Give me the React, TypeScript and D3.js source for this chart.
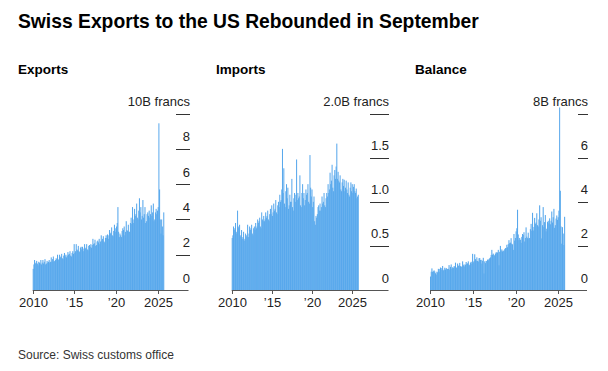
import { useEffect, useRef } from 'react'
import * as d3 from 'd3'

// monthly values, Jan 2010 .. Sep 2025, billions of francs
const exportsData = [
  1.2, 1.45, 1.7, 1.5, 1.55, 1.65, 1.5, 1.4, 1.6, 1.55, 1.5, 1.7,
  1.45, 1.55, 1.7, 1.5, 1.6, 1.75, 1.45, 1.5, 1.65, 1.55, 1.6, 1.7,
  1.55, 1.6, 1.85, 1.6, 1.75, 1.9, 1.6, 1.65, 1.7, 1.8, 1.75, 2.0,
  1.7, 1.75, 2.0, 1.85, 1.9, 2.05, 1.8, 1.75, 1.95, 2.1, 1.9, 2.0,
  1.85, 1.95, 2.15, 2.0, 2.05, 2.2, 1.95, 1.9, 2.1, 2.2, 2.05, 2.6,
  2.1, 2.2, 2.6, 2.3, 2.25, 2.5, 2.2, 2.15, 2.4, 2.45, 2.3, 2.45,
  2.2, 2.35, 2.6, 2.35, 2.4, 2.6, 2.3, 2.25, 2.5, 2.55, 2.45, 2.6,
  2.4, 2.55, 2.9, 2.6, 2.65, 2.85, 2.5, 2.55, 2.75, 2.8, 2.7, 2.9,
  2.6, 2.75, 3.1, 2.8, 2.9, 3.05, 2.75, 2.7, 2.95, 3.1, 2.95, 3.15,
  2.9, 3.1, 3.4, 3.2, 3.25, 3.55, 3.1, 3.05, 3.35, 3.7, 3.3, 3.5,
  3.6, 3.8, 4.7, 3.3, 3.0, 3.2, 3.1, 3.0, 3.35, 3.5, 3.4, 3.6,
  3.1, 3.3, 3.9, 3.4, 3.35, 3.7, 3.3, 3.3, 3.8, 4.1, 3.75, 4.7,
  3.8, 4.0, 4.6, 4.2, 4.3, 4.9, 4.1, 4.0, 4.5, 5.2, 4.4, 4.7,
  4.0, 4.2, 5.1, 4.1, 4.3, 4.7, 3.8, 3.9, 4.3, 4.4, 4.2, 4.5,
  4.1, 4.3, 4.8, 4.2, 4.4, 4.9, 3.9, 4.0, 4.4, 4.6, 4.3, 4.5,
  4.7, 9.45, 5.7, 4.0, 3.2, 4.0, 3.6, 3.1, 4.4,
]

const importsData = [
  0.59, 0.62, 0.72, 0.68, 0.7, 0.76, 0.66, 0.64, 0.9, 0.72, 0.7, 0.74,
  0.62, 0.6, 0.68, 0.58, 0.6, 0.66, 0.56, 0.58, 0.64, 0.62, 0.6, 0.74,
  0.6, 0.64, 0.72, 0.68, 0.7, 0.74, 0.64, 0.62, 0.7, 0.72, 0.68, 0.76,
  0.7, 0.72, 0.8, 0.76, 0.78, 0.82, 0.72, 0.7, 0.88, 0.8, 0.78, 0.84,
  0.78, 0.8, 0.88, 0.82, 0.84, 0.9, 0.8, 0.78, 0.86, 0.92, 0.86, 0.96,
  0.84, 0.88, 0.98, 0.9, 0.92, 1.02, 0.88, 0.86, 0.96, 1.0, 0.94, 1.08,
  1.0, 1.02, 1.14, 1.6, 1.1, 1.38, 0.98, 0.94, 1.12, 1.2, 1.04, 1.16,
  0.92, 0.96, 1.08, 1.0, 1.0, 1.26, 0.94, 0.9, 1.04, 1.1, 1.0, 1.08,
  1.48, 1.02, 1.1, 1.04, 1.06, 1.3, 0.96, 0.94, 1.1, 1.2, 1.04, 1.1,
  0.96, 1.02, 1.14, 1.08, 1.1, 1.2, 1.0, 0.98, 1.53, 1.16, 1.06, 1.14,
  0.94, 1.0, 1.06, 0.78, 0.74, 0.84, 0.82, 0.86, 0.94, 0.96, 0.9, 0.98,
  0.9, 0.94, 1.06, 0.98, 1.0, 1.1, 0.96, 0.94, 1.04, 1.1, 1.06, 1.2,
  1.1, 1.14, 1.33, 1.2, 1.24, 1.42, 1.16, 1.12, 1.3, 1.36, 1.26, 1.4,
  1.66, 1.26, 1.34, 1.24, 1.22, 1.3, 1.14, 1.12, 1.22, 1.26, 1.18, 1.25,
  1.12, 1.16, 1.24, 1.14, 1.1, 1.22, 1.08, 1.06, 1.16, 1.22, 1.12, 1.2,
  1.1, 1.17, 1.2, 1.12, 1.1, 1.15, 1.04, 1.06, 1.08,
]

const balanceData = [
  0.61, 0.83, 0.98, 0.82, 0.85, 0.89, 0.84, 0.76, 0.7, 0.83, 0.8, 0.96,
  0.83, 0.95, 1.02, 0.92, 1.0, 1.09, 0.89, 0.92, 1.01, 0.93, 1.0, 0.96,
  0.95, 0.96, 1.13, 0.92, 1.05, 1.16, 0.96, 1.03, 1.0, 1.08, 1.07, 1.24,
  1.0, 1.03, 1.2, 1.09, 1.12, 1.23, 1.08, 1.05, 1.07, 1.3, 1.12, 1.16,
  1.07, 1.15, 1.27, 1.18, 1.21, 1.3, 1.15, 1.12, 1.24, 1.28, 1.19, 1.64,
  1.26, 1.32, 1.62, 1.4, 1.33, 1.48, 1.32, 1.29, 1.44, 1.45, 1.36, 1.37,
  1.2, 1.33, 1.46, 0.75, 1.3, 1.22, 1.32, 1.31, 1.38, 1.35, 1.41, 1.44,
  1.48, 1.59, 1.82, 1.6, 1.65, 1.59, 1.56, 1.65, 1.71, 1.7, 1.7, 1.82,
  1.12, 1.73, 2.0, 1.76, 1.84, 1.75, 1.79, 1.76, 1.85, 1.9, 1.91, 2.05,
  1.94, 2.08, 2.26, 2.12, 2.15, 2.35, 2.1, 2.07, 1.82, 2.54, 2.24, 2.36,
  2.66, 2.8, 3.64, 2.52, 2.26, 2.36, 2.28, 2.14, 2.41, 2.54, 2.5, 2.62,
  2.2, 2.36, 2.84, 2.42, 2.35, 2.6, 2.34, 2.36, 2.76, 3.0, 2.69, 3.5,
  2.7, 2.86, 3.27, 3.0, 3.06, 3.48, 2.94, 2.88, 3.2, 3.84, 3.14, 3.3,
  2.34, 2.94, 3.76, 2.86, 3.08, 3.4, 2.66, 2.78, 3.08, 3.14, 3.02, 3.25,
  2.98, 3.14, 3.56, 3.06, 3.3, 3.68, 2.82, 2.94, 3.24, 3.38, 3.18, 3.3,
  3.6, 8.28, 4.5, 2.88, 2.1, 2.85, 2.56, 2.04, 3.32,
]

const yearTicks = [2010, 2015, 2020, 2025]
const yearLabels = ['2010', '\u201915', '\u201920', '2025']

const exportsTicks = [0, 2, 4, 6, 8, 10]
const importsTicks = [0, 0.5, 1.0, 1.5, 2.0]
const balanceTicks = [0, 2, 4, 6, 8]

const FONT = '"Liberation Sans", Arial, Helvetica, sans-serif'
const BAR = '#58a8ec'

const panels = [
  { name: 'Exports', data: exportsData, ticks: exportsTicks, unit: '10B francs', fmt: (d: number) => String(d),
    left: 18, x0: 32.7, x1: 157.7, axisEnd: 188.5, gridL: 176, gridR: 190 },
  { name: 'Imports', data: importsData, ticks: importsTicks, unit: '2.0B francs', fmt: (d: number) => (d === 0 ? '0' : d.toFixed(1)),
    left: 216, x0: 231.7, x1: 352.4, axisEnd: 388.5, gridL: 370, gridR: 389 },
  { name: 'Balance', data: balanceData, ticks: balanceTicks, unit: '8B francs', fmt: (d: number) => String(d),
    left: 415, x0: 430, x1: 558.4, axisEnd: 587, gridL: 578, gridR: 588 },
]

const App = () => {
  const ref = useRef<SVGSVGElement>(null)
  const width = 608
  const height = 371

  useEffect(() => {
    if (!ref.current) return
    const svg = d3.select(ref.current)
    svg.selectAll('*').remove()

    svg.append('text')
      .attr('x', 18).attr('y', 28)
      .style('font-family', FONT).style('font-weight', 'bold').style('font-size', '19.3px')
      .attr('fill', '#000')
      .text('Swiss Exports to the US Rebounded in September')

    svg.append('text')
      .attr('x', 18).attr('y', 359)
      .style('font-family', FONT).style('font-size', '12px')
      .attr('fill', '#333')
      .text('Source: Swiss customs office')

    const baseY = 290
    const topY = 113.6

    panels.forEach(p => {
      const g = svg.append('g')

      g.append('text')
        .attr('x', p.left).attr('y', 74)
        .style('font-family', FONT).style('font-weight', 'bold').style('font-size', '13.5px')
        .attr('fill', '#000')
        .text(p.name)

      const x = d3.scaleTime()
        .domain([new Date(2010, 0, 1), new Date(2025, 0, 1)])
        .range([p.x0, p.x1])
      const y = d3.scaleLinear()
        .domain([0, p.ticks[p.ticks.length - 1]])
        .range([baseY, topY])

      // bars overlap a little so the thin columns read as a solid area
      g.append('g').selectAll('rect')
        .data(p.data).enter().append('rect')
        .attr('x', (d, i) => x(new Date(2010, i, 1)))
        .attr('width', (d, i) => x(new Date(2010, i + 1, 1)) - x(new Date(2010, i, 1)) + 0.35)
        .attr('y', d => y(d))
        .attr('height', d => baseY - y(d))
        .attr('fill', BAR)

      // short gridlines with labels sitting above them
      const last = p.ticks[p.ticks.length - 1]
      p.ticks.filter(t => t > 0).forEach(t => {
        g.append('line')
          .attr('x1', p.gridL).attr('x2', p.gridR)
          .attr('y1', Math.round(y(t)) + 0.5).attr('y2', Math.round(y(t)) + 0.5)
          .attr('stroke', '#333').attr('stroke-width', 1)
      })
      p.ticks.forEach(t => {
        g.append('text')
          .attr('x', p.gridR).attr('y', y(t) - 7.5)
          .attr('text-anchor', 'end')
          .style('font-family', FONT).style('font-size', '13px')
          .attr('fill', '#222')
          .text(t === last ? p.unit : p.fmt(t))
      })

      // x axis
      g.append('line')
        .attr('x1', p.x0).attr('x2', p.axisEnd)
        .attr('y1', baseY + 0.5).attr('y2', baseY + 0.5)
        .attr('stroke', '#555').attr('stroke-width', 1)

      yearTicks.forEach((yr, i) => {
        const xx = Math.round(x(new Date(yr, 0, 1))) + 0.5
        g.append('line')
          .attr('x1', xx).attr('x2', xx)
          .attr('y1', baseY).attr('y2', baseY + 4)
          .attr('stroke', '#555')
        g.append('text')
          .attr('x', xx).attr('y', 307)
          .attr('text-anchor', 'middle')
          .style('font-family', FONT).style('font-size', '13px')
          .attr('fill', '#222')
          .text(yearLabels[i])
      })
    })
  }, [])

  return (
    <svg
      ref={ref}
      width={width}
      height={height}
      style={{ position: 'absolute', left: 0, top: 0, background: '#fff' }}
    />
  )
}

export default App
